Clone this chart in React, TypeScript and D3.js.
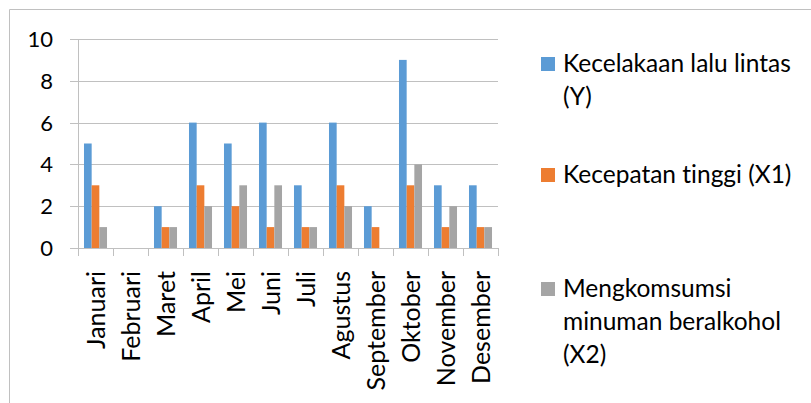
import React, { useEffect, useRef } from "react";
import * as d3 from "d3";

const months = [
  "Januari", "Februari", "Maret", "April", "Mei", "Juni",
  "Juli", "Agustus", "September", "Oktober", "November", "Desember",
];
const kecelakaan = [5, 0, 2, 6, 5, 6, 3, 6, 2, 9, 3, 3];
const kecepatan = [3, 0, 1, 3, 2, 1, 1, 3, 1, 3, 1, 1];
const alkohol = [1, 0, 1, 2, 3, 3, 1, 2, 0, 4, 2, 1];
const seriesNames = [
  ["Kecelakaan lalu lintas", "(Y)"],
  ["Kecepatan tinggi (X1)"],
  ["Mengkomsumsi", "minuman beralkohol", "(X2)"],
];
const colors = ["#5b9bd5", "#ed7d31", "#a5a5a5"];
const yTicks = [0, 2, 4, 6, 8, 10];

const FONT = "Lato, 'Open Sans', sans-serif";

export default function App() {
  const ref = useRef<SVGSVGElement>(null);

  useEffect(() => {
    document.body.style.margin = "0";
    const svg = d3.select(ref.current);
    svg.selectAll("*").remove();

    const values = [kecelakaan, kecepatan, alkohol];

    // outer chart border (cut off at right and bottom)
    svg.append("path")
      .attr("d", "M9.5,403 V9.5 H811")
      .attr("fill", "none")
      .attr("stroke", "#c0c0c0");

    const x = d3.scaleBand().domain(months).range([78, 498]);
    const xs = d3.scaleBand<number>()
      .domain([0, 1, 2])
      .range([0, x.bandwidth()])
      .paddingOuter(0.78);
    const y = d3.scaleLinear().domain([0, 10]).range([248, 39]);

    // grid lines
    svg.append("g")
      .selectAll("line")
      .data(yTicks)
      .join("line")
      .attr("x1", 70)
      .attr("x2", 498)
      .attr("y1", d => Math.round(y(d)) + 0.5)
      .attr("y2", d => Math.round(y(d)) + 0.5)
      .attr("stroke", "#c0c0c0");

    // y axis line
    svg.append("line")
      .attr("x1", 78.5).attr("x2", 78.5)
      .attr("y1", y(10)).attr("y2", y(0))
      .attr("stroke", "#c0c0c0");

    // y tick labels
    svg.append("g")
      .selectAll("text")
      .data(yTicks)
      .join("text")
      .attr("x", 53)
      .attr("y", d => y(d))
      .attr("dy", "0.36em")
      .attr("text-anchor", "end")
      .style("font-family", FONT)
      .style("font-size", "22px")
      .attr("fill", "#000")
      .text(d => d);

    // bars
    values.forEach((vals, si) => {
      svg.append("g")
        .selectAll("rect")
        .data(vals)
        .join("rect")
        .attr("x", (_, i) => (x(months[i]) as number) + (xs(si) as number))
        .attr("width", xs.bandwidth())
        .attr("y", d => y(d))
        .attr("height", d => y(0) - y(d))
        .attr("fill", colors[si]);
    });

    // x axis ticks
    const tickPos = months.map(m => x(m) as number).concat([498]);
    svg.append("g")
      .selectAll("line")
      .data(tickPos)
      .join("line")
      .attr("x1", d => Math.round(d) + 0.5)
      .attr("x2", d => Math.round(d) + 0.5)
      .attr("y1", y(0))
      .attr("y2", y(0) + 8)
      .attr("stroke", "#c0c0c0");

    // month labels
    svg.append("g")
      .selectAll("text")
      .data(months)
      .join("text")
      .attr("transform", d => `translate(${(x(d) as number) + x.bandwidth() / 2 + 1},271) rotate(-90)`)
      .attr("text-anchor", "end")
      .attr("dy", "0.35em")
      .style("font-family", FONT)
      .style("font-size", "25px")
      .style("font-variant-ligatures", "none")
      .attr("fill", "#000")
      .text(d => d);

    // legend
    const legendY = [72, 183, 297];
    const legend = svg.append("g");
    seriesNames.forEach((lines, si) => {
      legend.append("rect")
        .attr("x", 541)
        .attr("y", legendY[si] - 15)
        .attr("width", 14)
        .attr("height", 14)
        .attr("fill", colors[si]);
      const t = legend.append("text")
        .style("font-family", FONT)
        .style("font-size", "24.5px")
        .style("font-variant-ligatures", "none")
        .attr("fill", "#000");
      lines.forEach((ln, li) => {
        t.append("tspan")
          .attr("x", 563)
          .attr("y", legendY[si] + li * 33)
          .text(ln);
      });
    });
  }, []);

  return <svg ref={ref} width={811} height={403} style={{ display: "block" }} />;
}
